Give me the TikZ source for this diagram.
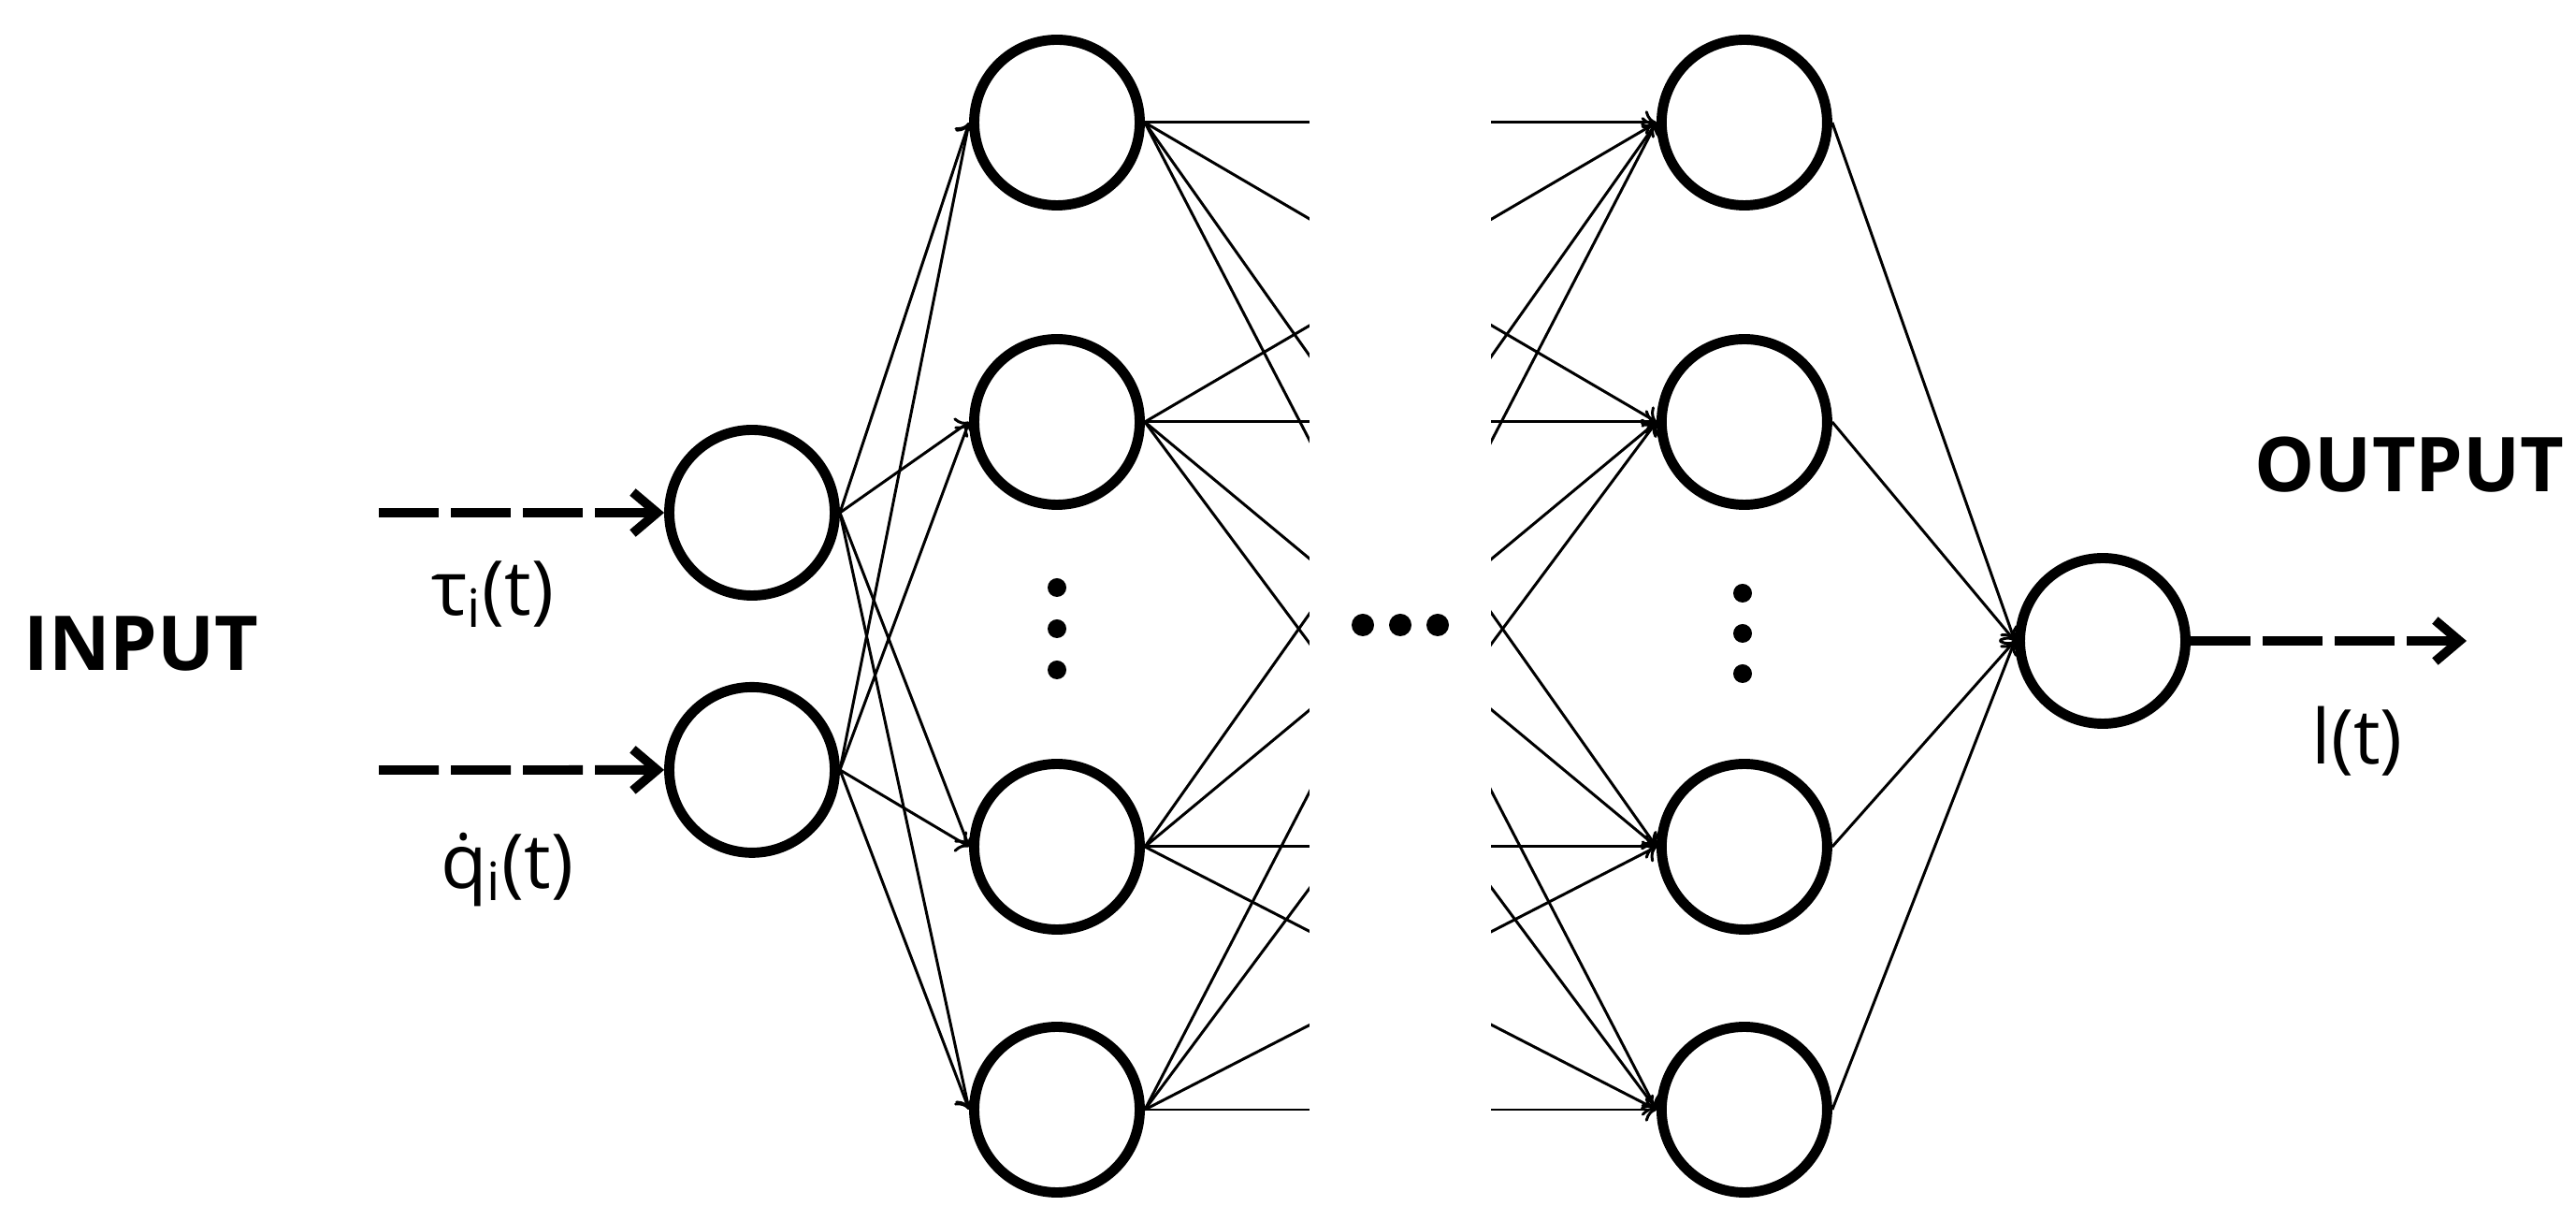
\documentclass[tikz,border=0pt]{standalone}
\usepackage{fontspec}
\setmainfont{Open Sans}
\usetikzlibrary{positioning,arrows.meta}
\tikzset{
  neuron/.style={circle, draw=black, line width=3.1pt, minimum size=1.77cm, inner sep=0pt},
  link/.style={->, line width=0.85pt},
  signal/.style={line width=2.8pt, dash pattern=on 0.64cm off 0.13cm, -{Straight Barb[length=2.6mm,width=4.4mm]}},
  layer label/.style={font=\fontsize{23}{27}\selectfont\bfseries},
  signal label/.style={font=\fontsize{23}{27}\selectfont},
}
\newcommand{\qdot}{\ooalign{q\cr\hidewidth ˙\hidewidth\cr}}

\begin{document}
\begin{tikzpicture}
\useasboundingbox (0,0) rectangle (27.54,13.05);
% the nodes
\node [neuron] at (8.04,7.57) (inA) {};
\node [neuron,below=0.87cm of inA] (inB) {};
\node [neuron] at (11.30,11.74) (hidA) {};
\node [neuron] at (11.30,8.54) (hidB) {};
\node [neuron] at (11.30,4.00) (hidC) {};
\node [neuron] at (11.30,1.19) (hidD) {};
\node [neuron,right=5.47cm of hidA] (deepA) {};
\node [neuron,right=5.47cm of hidB] (deepB) {};
\node [neuron,right=5.47cm of hidC] (deepC) {};
\node [neuron,right=5.47cm of hidD] (deepD) {};
\node [neuron] at (22.48,6.20) (outN) {};
% labels
\node [layer label] at (1.51,6.17) (inText) {INPUT};
\node [layer label] at (25.76,8.08) (outText) {OUTPUT};
\node [signal label] at (5.27,6.70) (tauText) {τ\textsubscript{i}(t)};
\node [signal label] at (5.42,3.78) (qText) {\qdot\textsubscript{i}(t)};
\node [signal label] at (25.20,5.13) (curText) {l(t)};
\coordinate (tauIn) at (4.05,7.57);
\coordinate (qIn) at (4.05,4.82);
\coordinate (curOut) at (26.37,6.20);
%drawings of vectors
\draw[signal] (tauIn) -- (inA.west);
\draw[signal] (qIn) -- (inB.west);
\draw[signal] (outN.east) -- (curOut);

\draw[link] (inA.east) -- (hidA.west);
\draw[link] (inA.east) -- (hidB.west);
\draw[link] (inA.east) -- (hidC.west);
\draw[link] (inA.east) -- (hidD.west);
\draw[link] (inB.east) -- (hidA.west);
\draw[link] (inB.east) -- (hidB.west);
\draw[link] (inB.east) -- (hidC.west);
\draw[link] (inB.east) -- (hidD.west);

\draw[link] (hidA.east) -- (deepA.west);
\draw[link] (hidA.east) -- (deepB.west);
\draw[link] (hidA.east) -- (deepC.west);
\draw[link] (hidA.east) -- (deepD.west);
\draw[link] (hidB.east) -- (deepA.west);
\draw[link] (hidB.east) -- (deepB.west);
\draw[link] (hidB.east) -- (deepC.west);
\draw[link] (hidB.east) -- (deepD.west);
\draw[link] (hidC.east) -- (deepA.west);
\draw[link] (hidC.east) -- (deepB.west);
\draw[link] (hidC.east) -- (deepC.west);
\draw[link] (hidC.east) -- (deepD.west);
\draw[link] (hidD.east) -- (deepA.west);
\draw[link] (hidD.east) -- (deepB.west);
\draw[link] (hidD.east) -- (deepC.west);
\draw[link] (hidD.east) -- (deepD.west);

\draw[link] (deepA.east) -- (outN.west);
\draw[link] (deepB.east) -- (outN.west);
\draw[link] (deepC.east) -- (outN.west);
\draw[link] (deepD.east) -- (outN.west);

% gap for the omitted layers
\fill[white] (14.00,0.3) rectangle (15.94,12.75);
\fill (14.57,6.37) circle (0.12) (14.97,6.37) circle (0.12) (15.37,6.37) circle (0.12);
\fill (11.30,6.77) circle (0.1) (11.30,6.33) circle (0.1) (11.30,5.89) circle (0.1);
\fill (18.63,6.71) circle (0.1) (18.63,6.28) circle (0.1) (18.63,5.85) circle (0.1);
\end{tikzpicture}
\end{document}
